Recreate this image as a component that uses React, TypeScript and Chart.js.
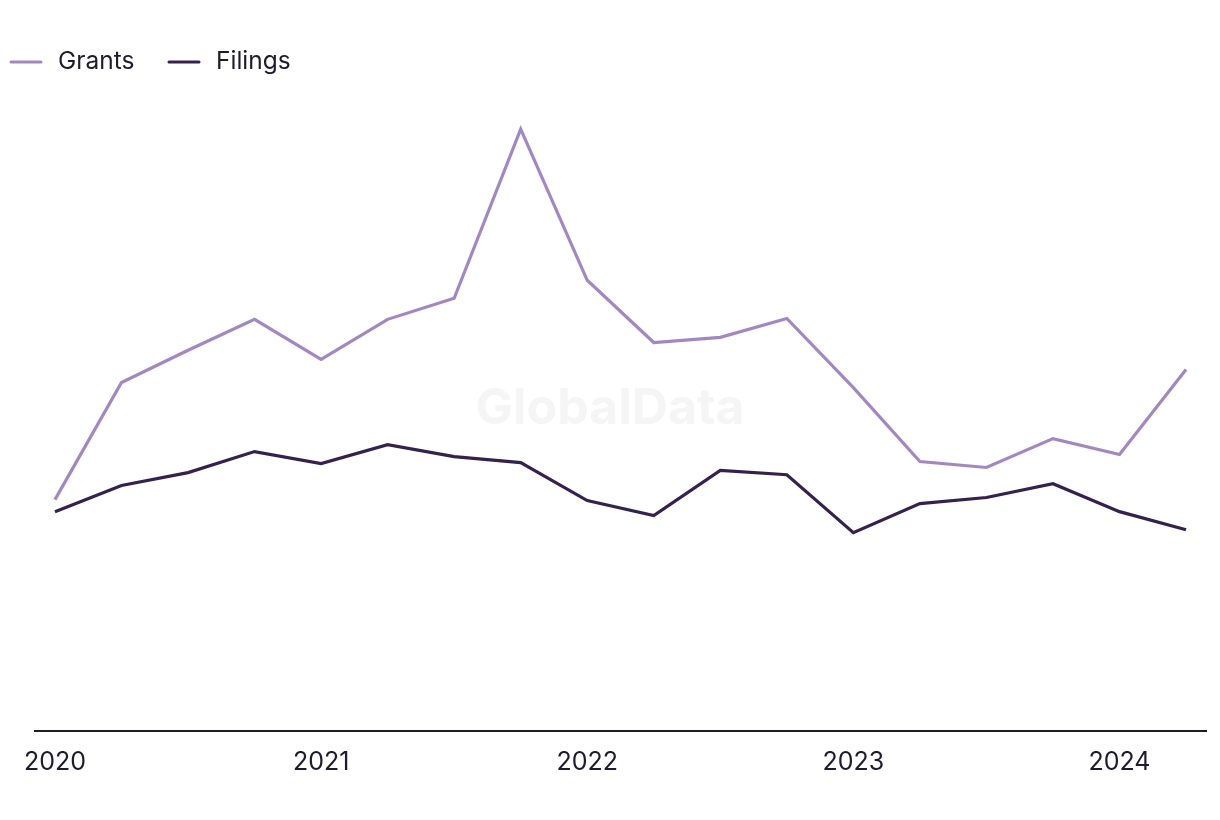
import React, { useEffect, useRef } from "react";
import { Chart, registerables } from "chart.js";

Chart.register(...registerables);

const quarters = [
  "Q1 2020", "Q2 2020", "Q3 2020", "Q4 2020",
  "Q1 2021", "Q2 2021", "Q3 2021", "Q4 2021",
  "Q1 2022", "Q2 2022", "Q3 2022", "Q4 2022",
  "Q1 2023", "Q2 2023", "Q3 2023", "Q4 2023",
  "Q1 2024", "Q2 2024",
];
const yearTicks: Record<number, string> = { 0: "2020", 4: "2021", 8: "2022", 12: "2023", 16: "2024" };
const grants = [77, 116, 126.7, 137, 123.7, 137, 144, 200.3, 150, 129.3, 131, 137.3, 114.3, 89.7, 87.7, 97.3, 92, 120.3];
const filings = [73, 81.7, 86, 93, 89, 95.3, 91.3, 89.3, 76.7, 71.7, 86.7, 85.3, 66, 75.7, 77.7, 82.3, 73, 67];

const GRANTS_COLOR = "#a287c6";
const FILINGS_COLOR = "#34214f";
const TEXT_COLOR = "#1c1c2e";
const FONT = "Inter, 'Noto Sans', sans-serif";

const legendAndWatermark = {
  id: "legendAndWatermark",
  beforeDatasetsDraw(chart: any) {
    const ctx = chart.ctx;
    ctx.save();
    ctx.font = `bold 50px ${FONT}`;
    ctx.fillStyle = "#f5f5f5";
    ctx.textAlign = "center";
    ctx.textBaseline = "middle";
    ctx.fillText("GlobalData", 610, 409);
    ctx.restore();
  },
  afterDraw(chart: any) {
    const ctx = chart.ctx;
    ctx.save();
    const items = [
      { label: "Grants", color: GRANTS_COLOR, x: 10 },
      { label: "Filings", color: FILINGS_COLOR, x: 168 },
    ];
    const y = 62;
    items.forEach((it) => {
      ctx.strokeStyle = it.color;
      ctx.lineWidth = 3;
      ctx.lineCap = "round";
      ctx.beginPath();
      ctx.moveTo(it.x + 1, y);
      ctx.lineTo(it.x + 31, y);
      ctx.stroke();
      ctx.font = `24.5px ${FONT}`;
      ctx.fillStyle = TEXT_COLOR;
      ctx.textAlign = "left";
      ctx.textBaseline = "middle";
      ctx.fillText(it.label, it.x + 48, y);
    });
    ctx.restore();
  },
};

export default function App() {
  const ref = useRef<HTMLCanvasElement>(null);
  useEffect(() => {
    document.body.style.margin = "0";
    const chart = new Chart(ref.current!, {
      type: "line",
      data: {
        datasets: [
          {
            label: "Grants",
            data: grants.map((v, i) => ({ x: i, y: v })),
            borderColor: GRANTS_COLOR,
            borderWidth: 3.2,
            pointRadius: 0,
            tension: 0,
          },
          {
            label: "Filings",
            data: filings.map((v, i) => ({ x: i, y: v })),
            borderColor: FILINGS_COLOR,
            borderWidth: 3.2,
            pointRadius: 0,
            tension: 0,
          },
        ],
      },
      options: {
        animation: false,
        responsive: false,
        layout: { padding: { top: 100, right: 14, bottom: 27, left: 0 } },
        plugins: {
          legend: { display: false },
          tooltip: { enabled: false },
        },
        scales: {
          x: {
            type: "linear",
            min: -0.3,
            max: quarters.length - 1 + 0.3,
            grid: { display: false, drawTicks: false },
            border: { display: true, color: TEXT_COLOR, width: 2 },
            afterBuildTicks: (s: any) => {
              s.ticks = Object.keys(yearTicks).map((k) => ({ value: Number(k) }));
            },
            ticks: {
              autoSkip: false,
              maxRotation: 0,
              padding: 16,
              color: TEXT_COLOR,
              font: { family: FONT, size: 25 },
              callback: (v: any) => yearTicks[v as number] ?? "",
            },
          },
          y: {
            min: 0,
            max: 210,
            display: true,
            grid: { display: false, drawTicks: false },
            border: { display: false },
            ticks: { display: false },
            afterFit: (s: any) => {
              s.width = 35;
            },
          },
        },
      },
      plugins: [legendAndWatermark],
    });
    return () => chart.destroy();
  }, []);
  return (
    <div style={{ width: 1220, height: 820 }}>
      <canvas ref={ref} width={1220} height={820} />
    </div>
  );
}
